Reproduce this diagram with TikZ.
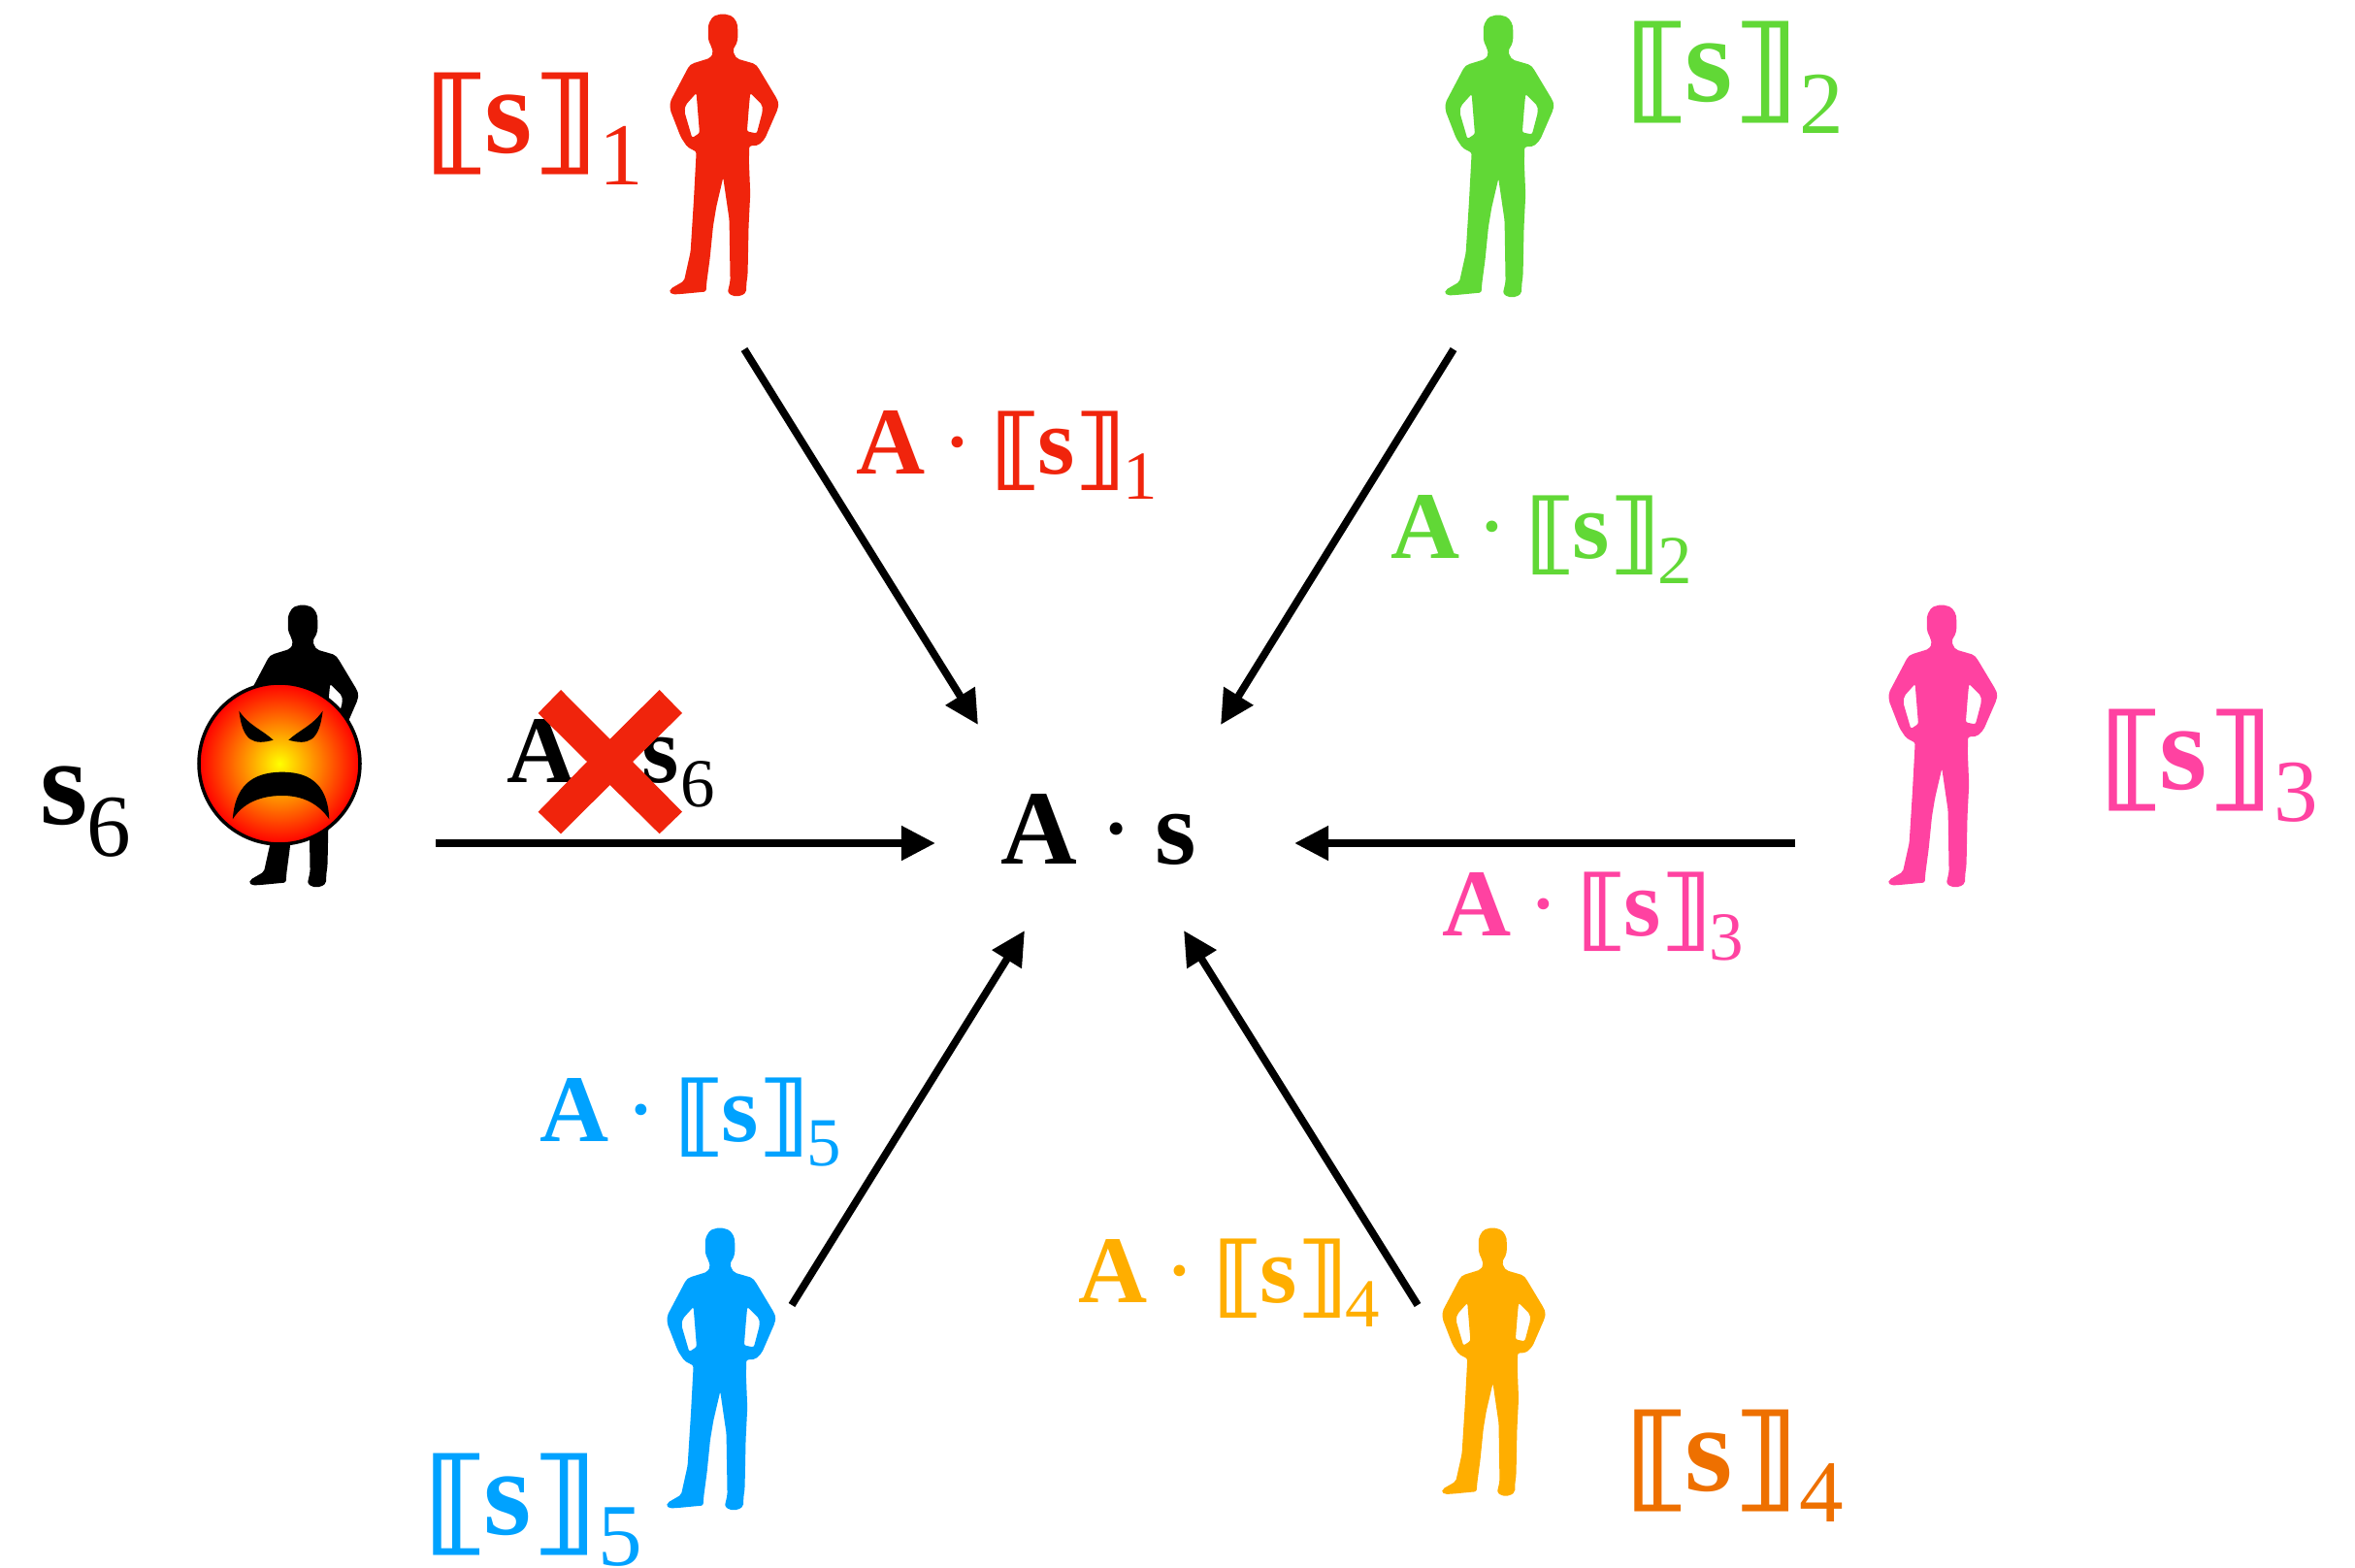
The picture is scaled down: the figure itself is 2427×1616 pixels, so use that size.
\documentclass[tikz,border=0pt]{standalone}
\usepackage{fontspec}
\setmainfont{Liberation Serif}
\newfontfamily\brfont{DejaVu Sans}
\usepackage{graphicx}
\usepackage{xcolor}
\usetikzlibrary{arrows.meta}
\definecolor{partyred}{RGB}{240,36,12}
\definecolor{partygreen}{RGB}{97,216,54}
\definecolor{partypink}{RGB}{255,66,161}
\definecolor{partyamber}{RGB}{255,174,0}
\definecolor{partyorange}{RGB}{238,112,0}
\definecolor{partyblue}{RGB}{0,162,255}
\newcommand{\bracketglyph}[1]{\raisebox{-.05em}{\scalebox{1.13}[.93]{\brfont\bfseries #1}}}
\newcommand{\shareof}[1]{\kern-.1em\bracketglyph{⟦}\kern-.04em\textbf{s}\kern-.02em\bracketglyph{⟧}\raisebox{-.26em}{\kern.01em\fontsize{.72em}{1em}\selectfont #1}}
\newcommand{\timesshare}[1]{\textbf{A}\kern.17em·\kern.26em\shareof{\kern-.05em #1}}
\begin{document}
\begin{tikzpicture}[
  x=.01cm,y=-.01cm,
  big/.style={anchor=base west,inner sep=0pt,font=\fontsize{36pt}{40pt}\selectfont},
  mid/.style={anchor=base west,inner sep=0pt,font=\fontsize{28pt}{32pt}\selectfont},
  arr/.style={-{Triangle[length=.35cm,width=.34cm]},line width=2.2pt,black},
  person/.pic={
    \path[pic actions,even odd rule,x=.003333cm,y=-.003333cm,shift={(-120,-42)},rounded corners=.6pt]
      (285,42)--(315,50)--(330,72)--(332,105)--(330,130)--(316,155)--(322,172)--(330,182)--(385,198)--(395,210)
      --(452,305)--(458,320)--(455,338)--(415,430)--(395,450)--(367,452)--(366,500)--(370,600)--(365,700)
      --(362,850)--(358,880)--(358,905)--(340,917)--(315,917)--(300,905)--(308,870)--(305,680)--(286,550)
      --(265,640)--(255,700)--(245,800)--(235,875)--(233,903)--(160,910)--(130,912)--(120,905)--(122,895)
      --(165,870)--(185,780)--(195,620)--(203,470)--(175,455)--(155,425)--(122,340)--(122,315)--(180,205)
      --(190,197)--(245,180)--(255,165)--(250,145)--(240,125)--(240,75)--(255,50)--cycle
      (370,288)--(407,325)--(408,345)--(390,413)--(360,407)--(366,330)--cycle
      (203,288)--(213,412)--(190,427)--(166,345)--(170,325)--cycle;
  }
]
\useasboundingbox (0,0) rectangle (2427,1616);
\pic[fill=partyred] (p1) at (690,14) {person};
\pic[fill=partygreen] (p2) at (1489,15) {person};
\pic[fill=partypink] (p3) at (1946,623) {person};
\pic[fill=partyamber,scale=.95] (p4) at (1486,1265) {person};
\pic[fill=partyblue] (p5) at (687,1265) {person};
\pic[fill=black] (p6) at (257,623) {person};
\shadedraw[inner color=yellow,outer color=red,draw=black,line width=1pt] (288,787) circle (83);
\fill (246.4,732.7) .. controls (257,748) and (270,752) .. (281.6,762.7) .. controls (262,768) and (250,765) .. cycle;
\fill (332.6,732.7) .. controls (322,748) and (309,752) .. (297.4,762.7) .. controls (317,768) and (329,765) .. cycle;
\fill (239.8,844.3) .. controls (242,812) and (258,795.7) .. (290.8,795.7) .. controls (323,795.7) and (338,812) .. (339.3,844.3) .. controls (328,828) and (312,820) .. (290.8,820) .. controls (268,820) and (250,828) .. cycle;
\node[big,text=partyred] (lab1) at (447,158) {\shareof{1}};
\node[big,text=partygreen] (lab2) at (1684,105) {\shareof{2}};
\node[big,text=partypink] (lab3) at (2173,814) {\shareof{3}};
\node[big,text=partyorange] (lab4) at (1684,1536) {\shareof{4}};
\node[big,text=partyblue] (lab5) at (446,1581) {\shareof{5}};
\node[big] (lab6) at (41,850) {\textbf{s}\raisebox{-.26em}{\kern-.01em\fontsize{.72em}{1em}\selectfont 6}};
\node[mid,text=partyred] (msg1) at (882,489) {\timesshare{1}};
\node[mid,text=partygreen] (msg2) at (1433,576) {\timesshare{2}};
\node[mid,text=partypink] (msg3) at (1486,964) {\timesshare{3}};
\node[mid,text=partyamber] (msg4) at (1111,1342) {\timesshare{4}};
\node[mid,text=partyblue] (msg5) at (556,1176) {\timesshare{5}};
\node[mid] (msg6) at (522,807) {\textbf{A}\kern.69em\textbf{s}\raisebox{-.25em}{\kern.01em\fontsize{.72em}{1em}\selectfont 6}};
\fill[partyred] (578,711)--(628.6,761.7)--(679.6,711)--(703,735)--(652,785)--(703,836.7)--(679.6,859.3)--(628.6,809)--(578,859.3)--(554.6,836.7)--(605,785)--(554.6,735)--cycle;
\node[anchor=base west,inner sep=0pt,font=\fontsize{31pt}{36pt}\selectfont] (sum) at (1031,890) {\textbf{A}\kern.2em·\kern.2em\textbf{s}};
\coordinate (from1) at (767,360);
\coordinate (to1) at (1008,747);
\coordinate (from2) at (1498,360);
\coordinate (to2) at (1258,747);
\coordinate (from3) at (1850,869);
\coordinate (to3) at (1334,869);
\coordinate (from4) at (1461,1345);
\coordinate (to4) at (1220,959);
\coordinate (from5) at (816,1345);
\coordinate (to5) at (1056,959);
\coordinate (from6) at (449,869);
\coordinate (to6) at (964,869);
\foreach \i in {1,...,6}
  \draw[arr] (from\i)--(to\i);
\end{tikzpicture}
\end{document}
